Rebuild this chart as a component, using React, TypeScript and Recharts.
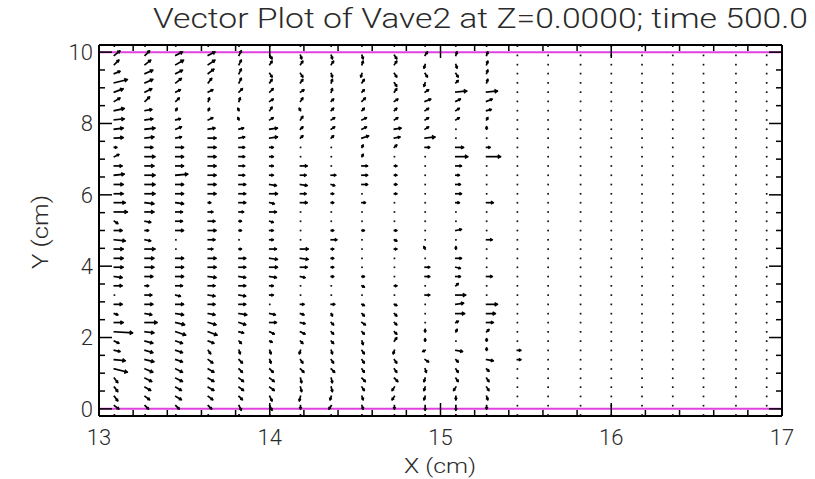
import React from 'react';
import { ScatterChart, Scatter, XAxis, YAxis, ReferenceLine } from 'recharts';

// grid of sample points (cm)
const rowsY = [
  -0.17, 0.09, 0.35, 0.61, 0.86, 1.12, 1.38, 1.64, 1.9, 2.16, 2.42, 2.67, 2.93, 3.19,
  3.45, 3.71, 3.97, 4.22, 4.48, 4.74, 5.0, 5.26, 5.52, 5.78, 6.03, 6.29, 6.55, 6.81,
  7.07, 7.33, 7.59, 7.84, 8.1, 8.36, 8.62, 8.88, 9.14, 9.4, 9.65, 9.91, 10.17,
];
const movingX = [13.09, 13.27, 13.45, 13.64, 13.82, 14.0, 14.18, 14.36, 14.54, 14.73, 14.91, 15.09, 15.27, 15.45];
const stillX = [15.63, 15.82, 16.0, 16.18, 16.36, 16.54, 16.73, 16.91];

// velocity (u, v) per column, bottom row first
const c1309 = [[0,-5],[4,-3],[3,-4],[3,-4],[3,-4],[12,-3],[10,-1],[5,-1],[4,-2],[17,-1],[8,0],[3,-1],[7,0],[1,0],[7,0],[7,-1],[8,0],[8,0],[8,0],[10,-1],[7,0],[3,-2],[12,0],[10,0],[8,0],[8,0],[9,1],[7,0],[4,2],[2,0],[8,0.5],[8,1],[9,1],[9,2],[5,3],[8,3],[12,3],[5,2],[4,4],[5,4],[1,4]];
const c1327 = [[0,-5],[3,-3],[4,-3],[5,-3],[6,-3],[7,-3],[8,-2],[7,-2],[7,-2],[8,-1],[11,0],[6,-1],[7,0],[6,0],[3,0],[7,0],[8,0],[8,0],[9,0],[5,-1],[3,0],[5,-1],[8,0],[8,-1],[9,0],[9,0],[9,0],[8,0],[9,0],[7,0],[8,1],[9,1],[7,1],[6,1],[4,4],[6,3],[7,3],[7,3],[5,4],[4,4],[1,4]];
const c1345 = [[0,-5],[3,-3],[5,-3],[5,-3],[6,-3],[6,-3],[6,-2],[6,-2],[6,-2],[9,-3],[8,-2],[7,-1],[7,0],[4,-1],[6,0],[7,0],[7,0],[7,0],[1,0],[1,0],[7,0],[6,0],[6,0],[7,-1],[7,0],[7,0],[11,1],[7,0],[7,0],[7,0],[5,1],[5,2],[4,1],[1,2],[3,3],[4,2],[5,4],[6,3],[7,4],[6,3],[1,4]];
const c1364 = [[0,-5],[3,-3],[4,-3],[5,-3],[5,-3],[5,-3],[4,-3],[2,-3],[5,-2],[8,-3],[7,-2],[6,-1],[6,0],[6,-1],[6,0],[7,-1],[7,0],[7,0],[4,0],[6,0],[7,0],[6,0],[4,0],[2,0],[7,0],[7,0],[7,0],[7,0],[7,0],[7,0],[7,0],[6,1],[4,2],[1,2],[1,3],[4,2],[3,4],[5,4],[6,4],[6,3],[1,4]];
const c1382 = [[0,-9],[2,-4],[3,-3],[4,-3],[4,-3],[3,-3],[3,-3],[1,-3],[2,-2],[4,-1],[6,-2],[7,-1],[6,0],[6,-1],[6,0],[6,-1],[6,0],[6,0],[2,0],[1,0],[2,0],[2,0],[4,0],[6,0],[6,0],[6,0],[5,0],[5,0],[5,0],[5,0],[5,1],[4,1],[-1,2],[-1,2],[1,3],[3,3],[2,4],[2,4],[2,4],[2,4],[1,4]];
const c1400 = [[0,-9],[2,-4],[2,-4],[4,-3],[4,-3],[3,-3],[1,-3],[1,-3],[2,-1],[4,-2],[6,0],[5,-1],[1,0],[3,0],[3,0],[6,-1],[7,0],[7,-1],[6,0],[3,0],[3,0],[3,-1],[6,0],[4,-1],[7,0],[6,-1],[3,0],[3,0],[3,0],[3,0],[7,1],[7,1],[3,2],[2,3],[3,2],[3,3],[2,3],[2,-3],[2,3],[2,-3],[1,4]];
const c1418 = [[0,-9],[0,-3],[-1,-4],[1,-4],[1,-4],[3,-3],[2,-3],[-1,-3],[2,-2],[4,-2],[4,-1],[3,-1],[3,0],[1,0],[1,0],[4,-1],[6,0],[7,-1],[7,0],[1,0],[1,0],[1,0],[1,0],[6,0],[5,0],[6,-1],[5,0],[6,0],[1,0],[1,0],[2,2],[2,2],[2,3],[-1,2],[2,3],[3,2],[2,3],[2,-3],[2,3],[1,-3],[1,4]];
const c1436 = [[0,-9],[-2,-3],[-1,-3],[1,-4],[1,-4],[3,-3],[2,-3],[1,-3],[2,-2],[2,-2],[2,-2],[1,-2],[3,0],[1,0],[1,0],[2,0],[2,0],[2,0],[2,0],[5,0],[2,0],[1,0],[1,0],[2,0],[2,0],[3,-1],[4,0],[1,0],[1,0],[1,0],[2,2],[3,2],[3,2],[2,2],[2,2],[1,3],[1,3],[1,-3],[2,3],[1,-3],[1,4]];
const c1454 = [[0,-9],[1,-3],[1,-3],[2,-3],[3,-3],[2,-3],[2,-3],[2,-3],[1,-3],[2,-2],[3,-2],[2,-2],[2,-1],[1,0],[2,-1],[2,0],[1,0],[1,0],[1,0],[1,0],[2,0],[1,0],[1,0],[3,0],[1,0],[5,0],[5,0],[5,0],[1,2],[1,2],[6,2],[4,2],[4,2],[2,2],[3,3],[2,2],[2,3],[-1,-3],[1,3],[1,-3],[1,4]];
const c1473 = [[0,-9],[0,-3],[-2,-3],[-2,-3],[3,-3],[2,-3],[2,-3],[-1,-3],[2,3],[2,-2],[2,-2],[2,-2],[2,-1],[1,0],[2,0],[1,0],[1,0],[1,0],[2,0],[2,-1],[2,0],[1,0],[1,0],[1,0],[2,0],[2,0],[2,0],[2,0],[1,0],[2,2],[5,1],[6,1],[3,2],[2,2],[3,2],[2,3],[2,-3],[2,-3],[2,3],[2,-3],[1,4]];
const c1491 = [[0,-9],[0,-4],[-1,-3],[-1,-3],[-1,-3],[1,-3],[3,-2],[-2,-1],[0,2],[0,2],[1,0],[1,0],[1,0],[4,0],[1,0],[4,0],[4,0],[1,0],[-1,2],[1,0],[1,0],[1,0],[1,0],[1,0],[1,0],[1,0],[1,0],[1,0],[1,0],[4,0],[9,1],[3,2],[3,2],[3,2],[5,2],[3,2],[-1,-3],[2,-3],[-1,-3],[2,3],[1,4]];
const c1509 = [[0,-9],[0,-4],[0,-3],[-2,-3],[2,-3],[2,-3],[2,-2],[6,-1],[1,0],[1,2],[2,1],[8,0],[7,1],[9,0],[2,2],[4,0],[4,-1],[5,0],[0,2],[1,0],[5,1],[1,0],[1,0],[3,0],[5,0],[4,0],[3,0],[5,0],[11,0],[7,0],[1,0],[1,0],[3,2],[3,2],[4,2],[10,1],[2,2],[2,-3],[1,-3],[1,3],[1,4]];
const c1527 = [[-1,-2],[0,-3],[1,-3],[2,-3],[2,-3],[2,-2],[6,-1],[0,2],[0,2],[2,2],[6,0],[8,0],[10,0],[1,0],[1,0],[5,0],[1,0],[1,0],[1,0],[5,0],[1,0],[1,0],[1,0],[6,0],[1,0],[1,0],[1,0],[1,0],[13,0],[3,0],[1,0],[0,2],[1,2],[4,1],[5,2],[10,1],[1,3],[1,3],[1,3],[1,3],[1,3]];
const c1545 = [[0,0],[0,0],[0,0],[0,0],[0,0],[0,0],[3,0],[3,0],[0,0],[0,0],[0,0],[0,0],[0,0],[0,0],[0,0],[0,0],[0,0],[0,0],[0,0],[0,0],[0,0],[0,0],[0,0],[0,0],[0,0],[0,0],[0,0],[0,0],[0,0],[0,0],[0,0],[0,0],[0,0],[0,0],[0,0],[0,0],[0,0],[0,0],[0,0],[0,0],[0,0]];
const columns = [c1309, c1327, c1345, c1364, c1382, c1400, c1418, c1436, c1454, c1473, c1491, c1509, c1527, c1545];

// wall positions
const walls = [0, 10];

const xTicks = [13, 13.2, 13.4, 13.6, 13.8, 14, 14.2, 14.4, 14.6, 14.8, 15, 15.2, 15.4, 15.6, 15.8, 16, 16.2, 16.4, 16.6, 16.8, 17];
const xMajor = [13, 14, 15, 16, 17];
const yTicks = [0, 0.5, 1, 1.5, 2, 2.5, 3, 3.5, 4, 4.5, 5, 5.5, 6, 6.5, 7, 7.5, 8, 8.5, 9, 9.5, 10];
const yMajor = [0, 2, 4, 6, 8, 10];

const VEC_PX = 1.05; // pixels per cm/s
const FONT = 'Roboto, "DejaVu Sans", sans-serif';
const INK = '#2a2a2a';

const points: { x: number; y: number; u: number; v: number }[] = [];
movingX.forEach((x, i) => {
  rowsY.forEach((y, j) => {
    const [u, v] = columns[i][j];
    points.push({ x, y, u, v });
  });
});
stillX.forEach((x) => rowsY.forEach((y) => points.push({ x, y, u: 0, v: 0 })));

const renderArrow = (props: any) => {
  const { cx, cy, payload } = props;
  const dx = payload.u * VEC_PX;
  const dy = -payload.v * VEC_PX;
  const len = Math.hypot(dx, dy);
  if (len < 1.5) {
    return <rect x={cx - 0.8} y={cy - 0.8} width={1.7} height={1.7} fill="#111" />;
  }
  const tx = cx + dx;
  const ty = cy + dy;
  const ang = Math.atan2(dy, dx);
  const hl = Math.min(2.2, Math.max(1.2, len * 0.25));
  const a1 = ang + Math.PI - 0.6;
  const a2 = ang + Math.PI + 0.6;
  return (
    <g stroke="#000" strokeWidth={1.7} fill="none" strokeLinecap="square">
      <line x1={cx} y1={cy} x2={tx} y2={ty} />
      <polyline
        points={`${tx + hl * Math.cos(a1)},${ty + hl * Math.sin(a1)} ${tx},${ty} ${tx + hl * Math.cos(a2)},${ty + hl * Math.sin(a2)}`}
      />
    </g>
  );
};

const noMark = () => <g />;

const BottomTick = ({ x, y, payload }: any) => {
  const major = xMajor.includes(payload.value);
  return (
    <g>
      <line x1={x} x2={x} y1={y} y2={y - (major ? 13 : 6)} stroke="#000" strokeWidth={1.5} />
      {major && (
        <text x={x} y={y + 29} textAnchor="middle" fontFamily={FONT} fontWeight={300} fontSize={22} fill={INK}>
          {payload.value}
        </text>
      )}
    </g>
  );
};

const TopTick = ({ x, y, payload }: any) => {
  const major = xMajor.includes(payload.value);
  return <line x1={x} x2={x} y1={y} y2={y + (major ? 13 : 6)} stroke="#000" strokeWidth={1.5} />;
};

const LeftTick = ({ x, y, payload }: any) => {
  const major = yMajor.includes(payload.value);
  return (
    <g>
      <line x1={x} x2={x + (major ? 13 : 6)} y1={y} y2={y} stroke="#000" strokeWidth={1.5} />
      {major && (
        <text x={x - 6} y={y} dy="0.36em" textAnchor="end" fontFamily={FONT} fontWeight={300} fontSize={22} fill={INK}>
          {payload.value}
        </text>
      )}
    </g>
  );
};

const RightTick = ({ x, y, payload }: any) => {
  const major = yMajor.includes(payload.value);
  return <line x1={x} x2={x - (major ? 13 : 6)} y1={y} y2={y} stroke="#000" strokeWidth={1.5} />;
};

const frame = { stroke: '#000', strokeWidth: 2 };

export default function App() {
  return (
    <div style={{ position: 'absolute', left: 0, top: 0, width: 815, height: 479, background: '#fff' }}>
      <ScatterChart width={815} height={479} margin={{ top: 44, right: 32, bottom: 0, left: 0 }}>
        <XAxis
          xAxisId="b"
          dataKey="x"
          type="number"
          domain={[13, 17]}
          ticks={xTicks}
          interval={0}
          allowDataOverflow
          height={63}
          tickSize={0}
          tickMargin={0}
          axisLine={frame}
          tickLine={false}
          tick={<BottomTick />}
        />
        <XAxis
          xAxisId="t"
          dataKey="x"
          orientation="top"
          type="number"
          domain={[13, 17]}
          ticks={xTicks}
          interval={0}
          allowDataOverflow
          height={1}
          tickSize={0}
          tickMargin={0}
          axisLine={frame}
          tickLine={false}
          tick={<TopTick />}
        />
        <YAxis
          yAxisId="l"
          dataKey="y"
          type="number"
          domain={[-0.2, 10.2]}
          ticks={yTicks}
          interval={0}
          allowDataOverflow
          width={99}
          tickSize={0}
          tickMargin={0}
          axisLine={frame}
          tickLine={false}
          tick={<LeftTick />}
        />
        <YAxis
          yAxisId="r"
          dataKey="y"
          orientation="right"
          type="number"
          domain={[-0.2, 10.2]}
          ticks={yTicks}
          interval={0}
          allowDataOverflow
          width={1}
          tickSize={0}
          tickMargin={0}
          axisLine={frame}
          tickLine={false}
          tick={<RightTick />}
        />
        {walls.map((w) => (
          <ReferenceLine key={w} xAxisId="b" yAxisId="l" y={w} stroke="#e040e0" strokeWidth={2} />
        ))}
        <Scatter xAxisId="t" yAxisId="r" data={points} shape={noMark} isAnimationActive={false} />
        <Scatter xAxisId="b" yAxisId="l" data={points} shape={renderArrow} isAnimationActive={false} />
        <text x={153} y={28} textLength={655} lengthAdjust="spacingAndGlyphs" fontFamily={FONT} fontWeight={300} fontSize={27} fill={INK}>
          Vector Plot of Vave2 at Z=0.0000; time 500.0
        </text>
        <text x={440} y={473} textAnchor="middle" textLength={72} lengthAdjust="spacingAndGlyphs" fontFamily={FONT} fontWeight={300} fontSize={21} fill={INK}>
          X (cm)
        </text>
        <text
          x={40}
          y={232}
          textAnchor="middle"
          dy="0.36em"
          transform="rotate(-90 40 232)"
          textLength={74}
          lengthAdjust="spacingAndGlyphs"
          fontFamily={FONT}
          fontWeight={300}
          fontSize={22}
          fill={INK}
        >
          Y (cm)
        </text>
      </ScatterChart>
    </div>
  );
}
